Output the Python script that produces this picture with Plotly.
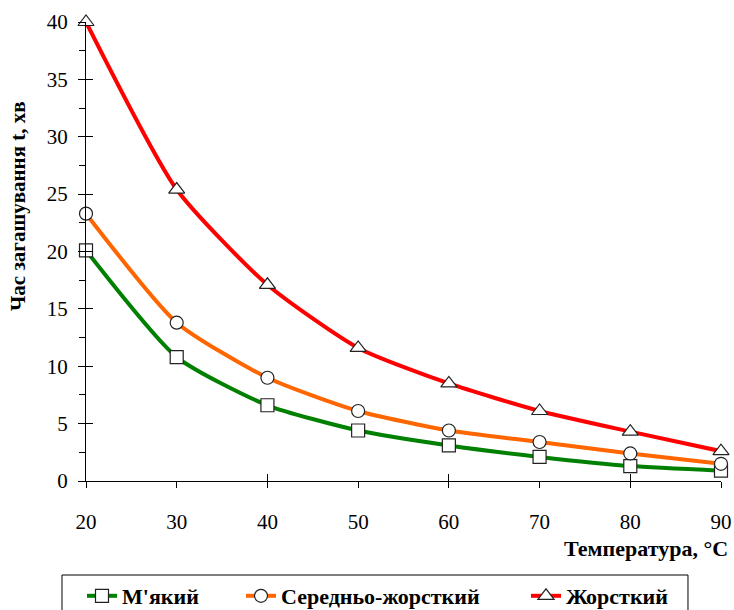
import plotly.graph_objects as go

temps = [20, 30, 40, 50, 60, 70, 80, 90]
soft = [20.1, 10.8, 6.6, 4.4, 3.1, 2.1, 1.3, 0.9]
medium = [23.3, 13.8, 9.0, 6.1, 4.4, 3.4, 2.4, 1.5]
hard = [40.0, 25.4, 17.1, 11.6, 8.5, 6.1, 4.3, 2.6]

names = ["М'який", "Середньо-жорсткий", "Жорсткий"]
colors = ["#008000", "#FF6600", "#FF0000"]
symbols = ["square", "circle", "triangle-up"]
sizes = [13, 13, 14]
series = [soft, medium, hard]
legend_ids = ["legend", "legend2", "legend3"]
legend_x = [-0.0063, 0.2441, 0.6929]

y_ticks = [0, 5, 10, 15, 20, 25, 30, 35, 40]
x_ticks = [20, 30, 40, 50, 60, 70, 80, 90]
x_cross_ticks = [20, 40, 60, 80]

FONT = "Liberation Serif"

fig = go.Figure()
for name, vals, col, sym, sz, lg in zip(names, series, colors, symbols, sizes, legend_ids):
    fig.add_trace(go.Scatter(
        x=temps, y=vals, name=name, legend=lg, mode="lines+markers",
        line=dict(color=col, width=4, shape="spline", smoothing=0.6),
        marker=dict(symbol=sym, size=sz, color="white",
                    line=dict(color="#222222", width=1.2)),
        cliponaxis=False,
    ))

legend_style = dict(
    orientation="h", xanchor="left", y=-0.2048, yanchor="top",
    borderwidth=0, bgcolor="rgba(0,0,0,0)",
    font=dict(family=FONT, size=22, color="black", weight="bold"),
    itemwidth=30,
)
legends = {lg: dict(legend_style, x=lx) for lg, lx in zip(legend_ids, legend_x)}

fig.update_layout(
    width=734, height=610,
    margin=dict(l=86, r=13, t=22, b=129, autoexpand=False),
    paper_bgcolor="white", plot_bgcolor="white",
    font=dict(family=FONT, size=21, color="black"),
    showlegend=True,
    **legends,
    xaxis=dict(
        range=[20, 90], tickvals=x_ticks, ticks="outside", ticklen=6,
        tickcolor="black", showline=True, linecolor="black", linewidth=1,
        showgrid=False, zeroline=False, tickfont=dict(family=FONT, size=21),
        ticklabelstandoff=16, automargin=False,
    ),
    xaxis2=dict(
        range=[20, 90], overlaying="x", anchor="y", tickvals=x_cross_ticks,
        ticks="inside", ticklen=7, tickcolor="black", showticklabels=False,
        showline=False, showgrid=False, zeroline=False, automargin=False,
    ),
    yaxis=dict(
        range=[0, 40], tickvals=y_ticks, ticks="outside", ticklen=7,
        tickcolor="black", showline=True, linecolor="black", linewidth=1,
        showgrid=False, zeroline=False, tickfont=dict(family=FONT, size=21),
        ticklabelstandoff=6, automargin=False,
        minor=dict(dtick=2.5, ticks="outside", ticklen=6, tickcolor="black",
                   showgrid=False),
    ),
    yaxis2=dict(
        range=[0, 40], overlaying="y", anchor="x", tickvals=y_ticks,
        ticks="inside", ticklen=7, tickcolor="black", showticklabels=False,
        showline=False, showgrid=False, zeroline=False, automargin=False,
    ),
    shapes=[
        dict(type="rect", xref="paper", yref="paper",
             x0=-0.0378, x1=0.948, y0=-0.2048, y1=-0.2832,
             line=dict(color="black", width=1), fillcolor="rgba(0,0,0,0)",
             layer="below"),
    ],
    annotations=[
        dict(text="<b>Час загашування t, хв</b>", xref="paper", yref="paper",
             x=0, xshift=-68, y=0.599, xanchor="center", yanchor="middle",
             textangle=-90, showarrow=False,
             font=dict(family=FONT, size=21, color="black")),
        dict(text="<b>Температура, °C</b>", xref="paper", yref="paper",
             x=1, xshift=9, y=0, yshift=-67, xanchor="right", yanchor="middle",
             showarrow=False, font=dict(family=FONT, size=22, color="black")),
    ],
)

fig.add_trace(go.Scatter(x=[None], y=[None], xaxis="x2", yaxis="y2",
                         showlegend=False, hoverinfo="skip"))

fig.write_html("out.html", config={"displayModeBar": False},
               post_script="document.body.style.margin='0px';")
